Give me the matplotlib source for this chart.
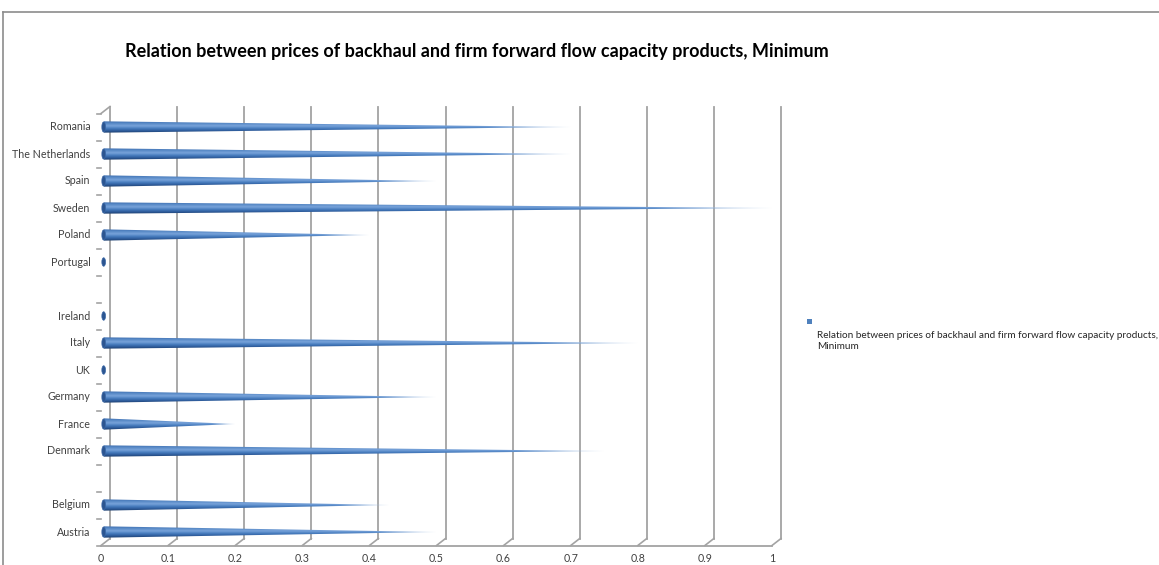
import numpy as np
import matplotlib.pyplot as plt
from matplotlib.patches import Polygon, Ellipse, Rectangle
from matplotlib.colors import LinearSegmentedColormap
import matplotlib.transforms as mtransforms

plt.rcParams['font.family'] = ['Lato', 'DejaVu Sans']

# bottom-to-top order; empty names are unused slots
countries = ['Austria', 'Belgium', '', 'Denmark', 'France', 'Germany', 'UK', 'Italy',
             'Ireland', '', 'Portugal', 'Poland', 'Sweden', 'Spain', 'The Netherlands', 'Romania']
values = [0.5, 0.43, np.nan, 0.75, 0.2, 0.5, 0.0, 0.8,
          0.0, np.nan, 0.0, 0.4, 1.0, 0.5, 0.7, 0.7]
xticks = [0, 0.1, 0.2, 0.3, 0.4, 0.5, 0.6, 0.7, 0.8, 0.9, 1]
xticklabels = ['0', '0.1', '0.2', '0.3', '0.4', '0.5', '0.6', '0.7', '0.8', '0.9', '1']
title = 'Relation between prices of backhaul and firm forward flow capacity products, Minimum'
series_name = 'Relation between prices of backhaul and firm forward flow capacity products,\nMinimum'

W, H = 1159, 565
fig = plt.figure(figsize=(W / 100, H / 100), dpi=100)
ax = fig.add_axes([101 / W, 1 - 545.5 / H, (772 - 101) / W, (545.5 - 113.5) / H])
ax.set_xlim(0, 1)
ax.set_ylim(-0.5, len(countries) - 0.5)
ax.axis('off')

grid_col = '#a3a3a3'
# back wall sits a few pixels behind the front plane
back = mtransforms.offset_copy(ax.transData, fig=fig, x=9, y=7, units='dots')
ylo, yhi = ax.get_ylim()
for v in xticks:
    ax.plot([v, v], [ylo, yhi], color=grid_col, lw=1.3, transform=back, clip_on=False)
    # floor ticks running from the front edge to the back wall
    p0 = ax.transData.transform((v, ylo))
    ax.plot([p0[0], p0[0] + 9], [p0[1], p0[1] + 7], color=grid_col, lw=1.2,
            transform=None, clip_on=False)
ax.plot([0, 1], [ylo, ylo], color=grid_col, lw=1.3, clip_on=False)
pt = ax.transData.transform((0, yhi))
ax.plot([pt[0], pt[0] + 9], [pt[1], pt[1] + 7], color=grid_col, lw=1.2, transform=None, clip_on=False)

# category ticks on the left edge
for k in range(len(countries) + 1):
    p = ax.transData.transform((0, k - 0.5))
    ax.plot([p[0] - 4, p[0]], [p[1], p[1]], color=grid_col, lw=1.2, transform=None, clip_on=False)

for k, name in enumerate(countries):
    ax.text(-0.016, k, name, ha='right', va='center', fontsize=7.7, color='#404040')
lab_tr = mtransforms.offset_copy(ax.transData, fig=fig, x=0, y=-7, units='dots')
for v, lab in zip(xticks, xticklabels):
    ax.text(v, ylo, lab, ha='center', va='top', fontsize=7.7, color='#404040', transform=lab_tr)

# cone shading across the thickness (bottom -> top)
shade = LinearSegmentedColormap.from_list(
    'cone', ['#1d3e6c', '#2f5e9e', '#4a7fc0', '#78a3da', '#5a8bc8', '#3f70b0'])
n_t, n_l = 60, 200
tt = np.linspace(0, 1, n_t)[:, None]
ll = np.linspace(0, 1, n_l)[None, :]
rgb = shade(np.repeat(tt, n_l, axis=1))[..., :3]
fade = np.clip((ll - 0.8) / 0.2, 0, 1)[..., None] * 0.5
rgba = np.ones((n_t, n_l, 4))
rgba[..., :3] = rgb * (1 - fade) + fade
rgba[..., 3] = 1 - np.clip((ll - 0.9) / 0.1, 0, 1) * 0.35

half = 0.21
cap_w = 0.0055
for k, v in enumerate(values):
    if np.isnan(v):
        continue
    x0 = 0.004
    if v > 0:
        tri = Polygon([(x0, k - half), (v, k), (x0, k + half)], closed=True,
                      facecolor='none', edgecolor='none')
        ax.add_patch(tri)
        im = ax.imshow(rgba, extent=(x0, v, k - half, k + half), origin='lower',
                       aspect='auto', interpolation='bilinear', zorder=3)
        im.set_clip_path(tri)
    ax.add_patch(Ellipse((x0, k), cap_w, 2 * half * (0.9 if v > 0 else 0.75),
                         facecolor='#2c5590', edgecolor='#3a68a8', lw=0.5, zorder=4))
ax.set_xlim(0, 1)
ax.set_ylim(ylo, yhi)

fig.text(125 / W, 1 - 52 / H, title, ha='left', va='center', fontsize=13, fontweight='bold',
         color='#000000')

# legend
fig.patches.append(Rectangle((807 / W, 1 - 324 / H), 5 / W, 5 / H, transform=fig.transFigure,
                             facecolor='#4f81bd', edgecolor='none'))
fig.text(817 / W, 1 - 341 / H, series_name, ha='left', va='center', fontsize=7.2,
         color='#262626', linespacing=1.35)

# chart area border
fig.add_artist(plt.Line2D([3 / W, 1], [1 - 12 / H, 1 - 12 / H], color='#8c8c8c', lw=1.2,
                          transform=fig.transFigure))
fig.add_artist(plt.Line2D([3 / W, 3 / W], [0, 1 - 12 / H], color='#8c8c8c', lw=1.2,
                          transform=fig.transFigure))

fig.savefig('out.png', dpi=100)
